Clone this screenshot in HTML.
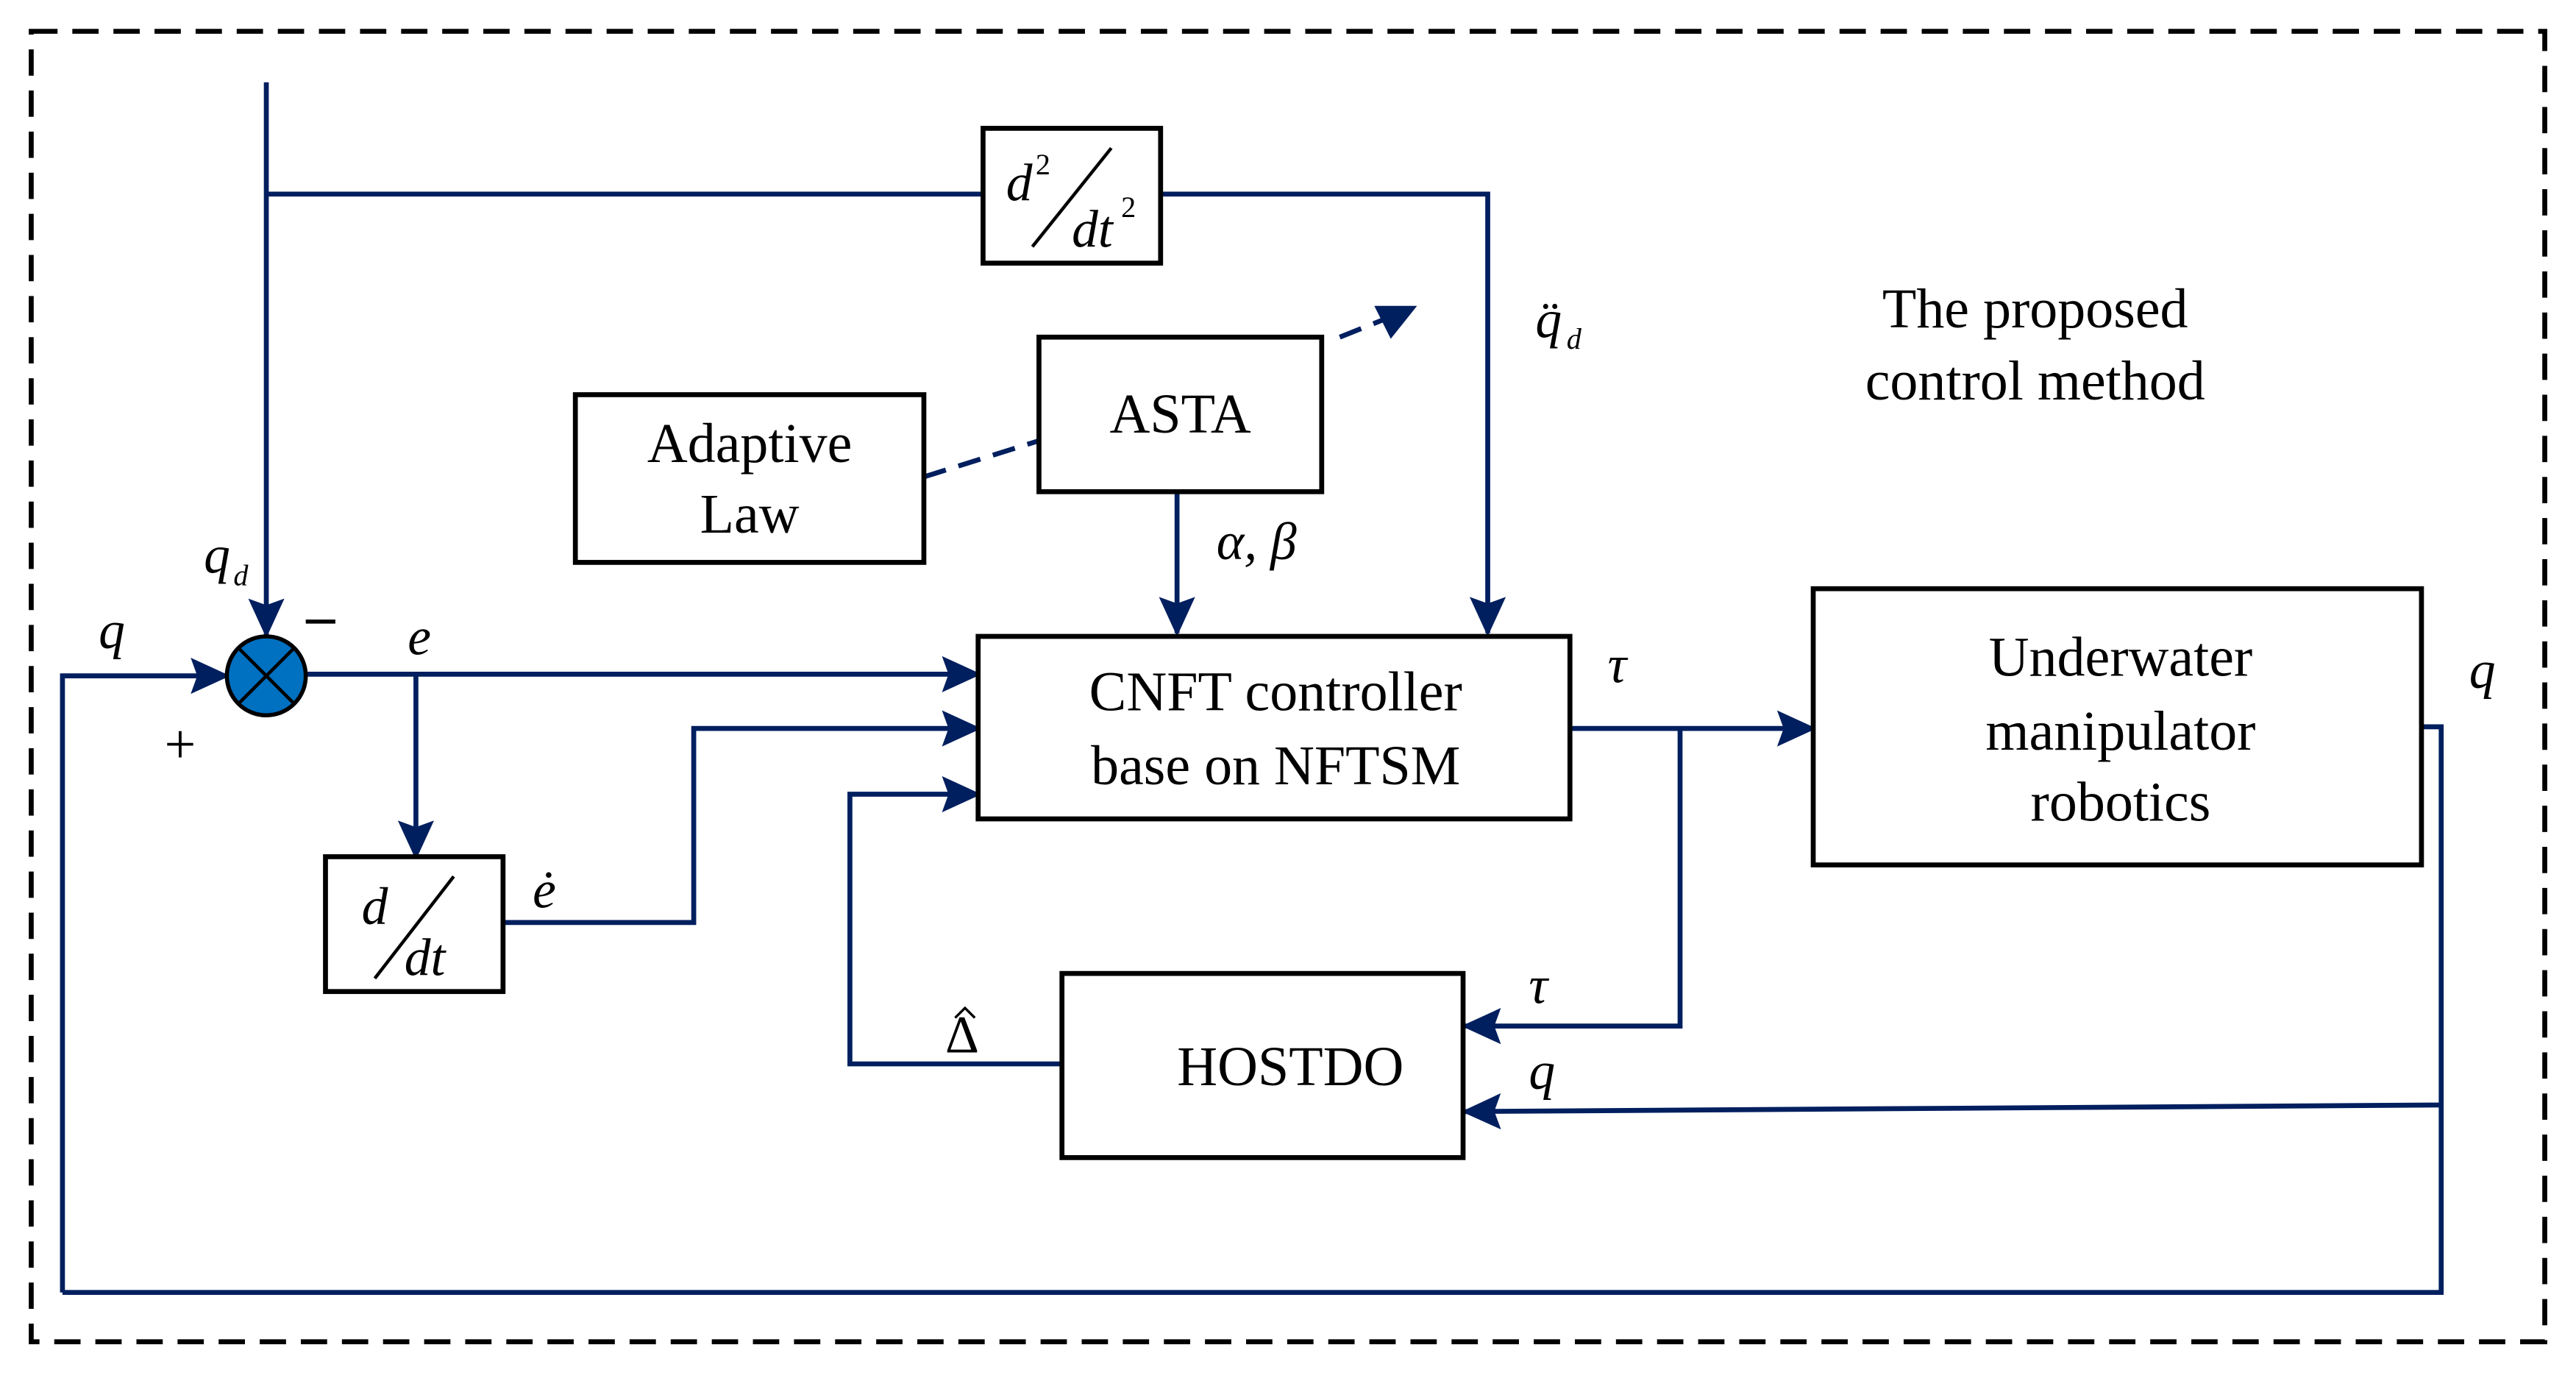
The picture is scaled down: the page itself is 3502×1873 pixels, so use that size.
<!DOCTYPE html>
<html><head><meta charset="utf-8"><style>
html,body{margin:0;padding:0;background:#fff;}
svg{display:block;}
text{font-family:"Liberation Serif",serif;fill:#000;}
</style></head><body>
<svg width="3502" height="1873" viewBox="0 0 1567 838" xmlns="http://www.w3.org/2000/svg">
<defs>
<marker id="a" markerWidth="24" markerHeight="22" refX="22" refY="11" orient="auto" markerUnits="userSpaceOnUse" viewBox="0 0 24 22">
<path d="M0,0 L24,11 L0,22 L4,11 z" fill="#001f5f"/></marker>
</defs>
<rect width="1567" height="838" fill="#fff"/>
<rect x="19" y="19" width="1529" height="797" fill="none" stroke="#000" stroke-width="3" stroke-dasharray="16,9"/>
<g fill="none" stroke="#001f5f" stroke-width="3">
<path d="M162,50 V386" marker-end="url(#a)"/>
<path d="M162,118 H598 M706,118 H905 V385" marker-end="url(#a)"/>
<path d="M38,786 V411 H138" marker-end="url(#a)"/>
<path d="M1473,442 H1485 V786 H38"/>
<path d="M186,410 H595" marker-end="url(#a)"/>
<path d="M253,410 V521" marker-end="url(#a)"/>
<path d="M306,561 H422 V443 H595" marker-end="url(#a)"/>
<path d="M646,647 H517 V483 H595" marker-end="url(#a)"/>
<path d="M716,299 V385" marker-end="url(#a)"/>
<path d="M955,443 H1103" marker-end="url(#a)"/>
<path d="M1022,443 V624 H891" marker-end="url(#a)"/>
<path d="M1485,672 L891,676" marker-end="url(#a)"/>
<path d="M562,290 L632,268" stroke-dasharray="14,8"/>
<path d="M815,205 L845,193" stroke-dasharray="14,8"/>
</g>
<path d="M862,186 L836,186 L846,206 z" fill="#001f5f"/>
<circle cx="162" cy="411" r="24" fill="#0070c0" stroke="#000" stroke-width="2.5"/>
<path d="M145,394 L179,428 M179,394 L145,428" stroke="#000" stroke-width="2"/>
<g fill="#fff" stroke="#000" stroke-width="3">
<rect x="598" y="78" width="108" height="82"/>
<rect x="632" y="205" width="172" height="94"/>
<rect x="350" y="240" width="212" height="102"/>
<rect x="595" y="387" width="360" height="111"/>
<rect x="198" y="521" width="108" height="82"/>
<rect x="646" y="592" width="244" height="112"/>
<rect x="1103" y="358" width="370" height="168"/>
</g>
<path d="M628,150 L676,90" stroke="#000" stroke-width="2"/>
<path d="M228,595 L276,533" stroke="#000" stroke-width="2"/>
<g font-size="34" text-anchor="middle">
<text x="718" y="263">ASTA</text>
<text x="456" y="281">Adaptive</text>
<text x="456" y="324">Law</text>
<text x="776" y="432">CNFT controller</text>
<text x="776" y="477">base on NFTSM</text>
<text x="785" y="660">HOSTDO</text>
<text x="1290" y="411">Underwater</text>
<text x="1290" y="456">manipulator</text>
<text x="1290" y="499">robotics</text>
<text x="1238" y="199">The proposed</text>
<text x="1238" y="243">control method</text>
</g>
<g font-style="italic" font-size="32">
<text x="612" y="122">d</text><text x="630" y="106" font-size="18" font-style="normal">2</text>
<text x="652" y="150">dt</text><text x="682" y="132" font-size="18" font-style="normal">2</text>
<text x="220" y="562">d</text><text x="246" y="593">dt</text>
<text x="934" y="205">q̈</text><text x="953" y="212" font-size="18">d</text>
<text x="124" y="348">q</text><text x="142" y="356" font-size="18">d</text>
<text x="60" y="394">q</text>
<text x="248" y="398">e</text>
<text x="324" y="552">ė</text>
<text x="740" y="340">α, β</text>
<text x="978" y="415">τ</text>
<text x="930" y="610">τ</text>
<text x="930" y="662">q</text>
<text x="1502" y="418">q</text>
</g>
<text x="575" y="640" font-size="32">Δ</text>
<path d="M581,619 L587,613 L593,619" stroke="#000" stroke-width="1.5" fill="none"/>
<text x="100" y="464" font-size="34">+</text>
<path d="M186,378 H204" stroke="#000" stroke-width="2.5"/>
</svg>
</body></html>
